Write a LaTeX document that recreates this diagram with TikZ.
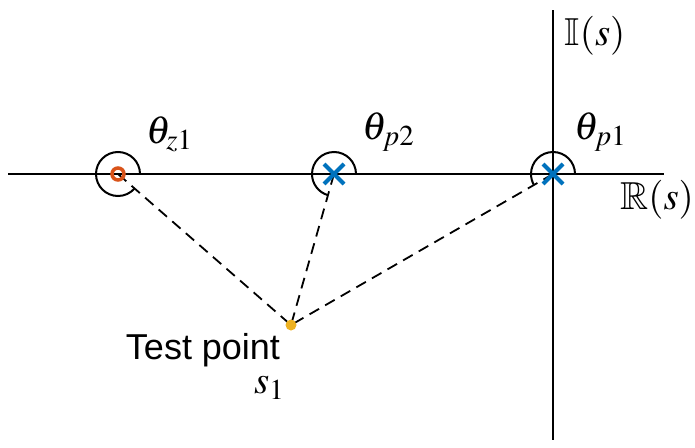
\documentclass[tikz,border=0pt]{standalone}
\usepackage{mathptmx}
\usepackage{amssymb}
\usepackage{fontspec}
\newfontfamily\helv{Liberation Sans}
\newcommand\mlbl[1]{\scalebox{3.9}{$#1$}}
\definecolor{poleblue}{RGB}{0,114,189}
\definecolor{zeroorange}{RGB}{217,83,25}
\definecolor{testyellow}{RGB}{237,177,32}
\begin{document}
\begin{tikzpicture}[x=1pt,y=1pt,
  axis/.style={line width=2pt,black},
  angarc/.style={line width=2pt,black},
  conn/.style={line width=1.8pt,black,dash pattern=on 11pt off 7pt},
  polemark/.style={line width=4pt,poleblue},
  zeromark/.style={line width=3.5pt,zeroorange},
  mathlbl/.style={inner sep=0pt},
  txtlbl/.style={font=\helv\fontsize{36}{40}\selectfont,inner sep=0pt}]
\useasboundingbox (0,0) rectangle (695,-447);
% positions
\coordinate (zero) at (118,-174);
\coordinate (p2) at (334,-174);
\coordinate (p1) at (553,-174);
\coordinate (test) at (291,-325);
\coordinate (xl) at (8,-174);
\coordinate (xr) at (664,-174);
\coordinate (yt) at (553,-10);
\coordinate (yb) at (553,-440);
% axes
\draw[axis] (xl) -- (xr);
\draw[axis] (yt) -- (yb);
% connectors
\draw[conn] (zero) -- (test);
\draw[conn] (p2) -- (test);
\draw[conn] (p1) -- (test);
% angle arcs
\draw[angarc] ([shift={(0:22)}]zero) arc[start angle=0,end angle=318.9,radius=22];
\draw[angarc] ([shift={(0:22)}]p2) arc[start angle=0,end angle=254.1,radius=22];
\draw[angarc] ([shift={(0:22)}]p1) arc[start angle=0,end angle=210,radius=22];
% markers
\draw[zeromark] (zero) circle[radius=6];
\draw[polemark] ([shift={(-10,10)}]p2) -- ([shift={(10,-10)}]p2) ([shift={(-10,-10)}]p2) -- ([shift={(10,10)}]p2);
\draw[polemark] ([shift={(-10,10)}]p1) -- ([shift={(10,-10)}]p1) ([shift={(-10,-10)}]p1) -- ([shift={(10,10)}]p1);
\fill[testyellow] (test) circle[radius=5.5];
% labels
\node[mathlbl] (lz1) at (170,-134) {\mlbl{\theta_{z1}}};
\node[mathlbl] (lp2) at (389,-132) {\mlbl{\theta_{p2}}};
\node[mathlbl] (lp1) at (601,-132) {\mlbl{\theta_{p1}}};
\node[mathlbl] (lre) at (657,-200) {\mlbl{\mathbb{R}(s)}};
\node[mathlbl] (lim) at (595,-36) {\mlbl{\mathbb{I}(s)}};
\node[txtlbl] (ltp) at (203,-350) {Test point};
\node[mathlbl] (ls1) at (270,-388) {\mlbl{s_1}};
\end{tikzpicture}
\end{document}
